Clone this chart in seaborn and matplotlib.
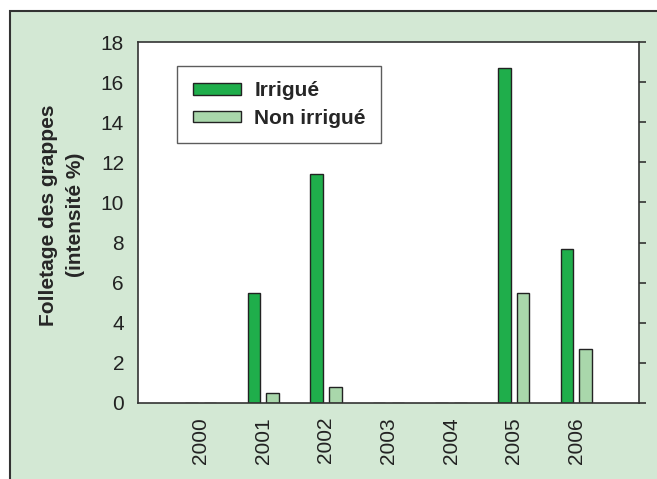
import pandas as pd
import seaborn as sns
import matplotlib.pyplot as plt
from matplotlib.patches import Rectangle

# Data
years = ['2000', '2001', '2002', '2003', '2004', '2005', '2006']
irrigue = [0, 5.5, 11.4, 0, 0, 16.7, 7.7]
non_irrigue = [0, 0.5, 0.8, 0, 0, 5.5, 2.7]
series = ['Irrigué', 'Non irrigué']

df = pd.DataFrame({
    'year': years * 2,
    'value': irrigue + non_irrigue,
    'serie': [series[0]] * len(years) + [series[1]] * len(years),
})

sns.set_style('white')
plt.rcParams['font.family'] = ['Liberation Sans', 'DejaVu Sans']

dark = '#333333'
fig = plt.figure(figsize=(6.57, 4.79), dpi=100)
fig.patch.set_facecolor('white')

# light green panel with dark border, running off the right/bottom edges
fig.patches.append(Rectangle((10 / 657, -0.1), 1.2, 1 - 11 / 479 + 0.1,
                             transform=fig.transFigure, facecolor='#d3e8d4',
                             edgecolor=dark, linewidth=1.5, zorder=-10))

ax = fig.add_axes([138 / 657, 76 / 479, 501 / 657, 361 / 479])
ax.set_facecolor('white')

sns.barplot(data=df, x='year', y='value', hue='serie', order=years,
            palette=['#1fae4b', '#a9d7ab'], saturation=1, width=0.6, gap=0.33,
            edgecolor='#222222', linewidth=1, errorbar=None, ax=ax)

ax.set_xlim(-1, 7)
ax.set_ylim(0, 18)
ax.set_yticks(range(0, 19, 2))
ax.set_xticks(range(-1, 8))
ax.set_xticklabels([''] + years + [''], rotation=90, fontsize=15)
ax.tick_params(axis='y', labelsize=15, right=True)
ax.tick_params(direction='out', length=5, width=1.2, color=dark,
               labelcolor='#222222', pad=5)

for sp in ax.spines.values():
    sp.set_color(dark)
    sp.set_linewidth(1.2)

ax.set_xlabel('')
ax.set_ylabel('Folletage des grappes\n(intensité %)', fontsize=15,
              fontweight='bold', va='center', linespacing=1.55)
ax.yaxis.set_label_coords(-0.152, 0.52)

leg = ax.legend(loc='upper left', bbox_to_anchor=(0.078, 0.934),
                borderaxespad=0, frameon=True, fancybox=False,
                prop={'size': 15, 'weight': 'bold'}, handlelength=2.3,
                handleheight=0.45, handletextpad=0.65, borderpad=0.75,
                labelspacing=0.4)
leg.get_frame().set_edgecolor(dark)
leg.get_frame().set_linewidth(1)

fig.savefig('out.png', dpi=100)
